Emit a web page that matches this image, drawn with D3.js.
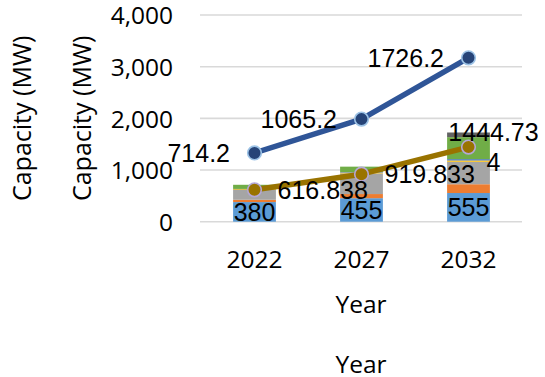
<!DOCTYPE html>
<html>
<head>
<meta charset="utf-8">
<script src="https://cdn.jsdelivr.net/npm/d3@7"></script>
<style>
  html, body { margin: 0; padding: 0; background: #fff; }
  svg { display: block; }
</style>
</head>
<body>
<script>
// Years on the category axis
const years = ["2022", "2027", "2032"];

// Stacked capacity components (MW), bottom to top
const capBlue     = [380, 455, 555];
const capOrange   = [44.2, 80, 170];
const capGray     = [190, 400.2, 435];
const capYellow   = [15, 15, 25];
const capNavy     = [5, 10, 25];
const capGreen    = [80, 105, 426.2];
const capCharcoal = [0, 0, 90];

// Stacked line series (MW): lower line, then upper line stacked on it
const lineLower = [616.838, 919.833, 1444.734];
const lineUpper = [714.2, 1065.2, 1726.2];

// Value axis ticks
const yTicks = [0, 1000, 2000, 3000, 4000];

const segKeys = ["blue", "orange", "gray", "yellow", "navy", "green", "charcoal"];
const segColors = {
  blue: "#5b9bd5", orange: "#ed7d31", gray: "#a5a5a5", yellow: "#ffc000",
  navy: "#4472c4", green: "#70ad47", charcoal: "#636363"
};
const segData = {
  blue: capBlue, orange: capOrange, gray: capGray, yellow: capYellow,
  navy: capNavy, green: capGreen, charcoal: capCharcoal
};

const W = 545, H = 377;
const svg = d3.select("body").append("svg").attr("width", W).attr("height", H);

const x = d3.scaleBand().domain(years).range([201, 522]).paddingInner(0.6).paddingOuter(0.3);
const y = d3.scaleLinear().domain([0, 4000]).range([221.7, 15]);

const tickFont = "'Open Sans', sans-serif";
const labelFont = "'Liberation Sans', Arial, sans-serif";

// Gridlines
svg.append("g").selectAll("line").data(yTicks).join("line")
  .attr("x1", 200).attr("x2", 522)
  .attr("y1", d => y(d)).attr("y2", d => y(d))
  .attr("stroke", "#d9d9d9").attr("stroke-width", 1.6);

// Y tick labels
const yAxis = d3.axisLeft(y).tickValues(yTicks).tickFormat(d3.format(",")).tickSize(0).tickPadding(0);
const gy = svg.append("g").attr("transform", "translate(173,0)").call(yAxis);
gy.select(".domain").remove();
gy.selectAll("text")
  .attr("font-family", tickFont).attr("font-size", 24.5).attr("fill", "#000")
  .attr("dy", "0.36em");

// X tick labels
const xAxis = d3.axisBottom(x).tickSize(0).tickPadding(0);
const gx = svg.append("g").attr("transform", "translate(0,250)").call(xAxis);
gx.select(".domain").remove();
gx.selectAll("text")
  .attr("font-family", tickFont).attr("font-size", 24.5).attr("fill", "#000")
  .attr("dy", "0.75em");

// Stacked bars
const rows = years.map((yr, i) => {
  const r = { year: yr };
  segKeys.forEach(k => { r[k] = segData[k][i]; });
  return r;
});
const stacked = d3.stack().keys(segKeys)(rows);

svg.append("g").selectAll("g").data(stacked).join("g")
  .attr("fill", d => segColors[d.key])
  .selectAll("rect").data(d => d).join("rect")
  .attr("x", d => x(d.data.year))
  .attr("width", x.bandwidth())
  .attr("y", d => y(d[1]))
  .attr("height", d => Math.max(0, y(d[0]) - y(d[1])));

// Stacked lines
const lineRows = years.map((yr, i) => ({ year: yr, lower: lineLower[i], upper: lineUpper[i] }));
const lineStack = d3.stack().keys(["lower", "upper"])(lineRows);
const lineStyles = {
  lower: { stroke: "#997300", marker: "#997300", ring: "#b4a7d6" },
  upper: { stroke: "#2f5597", marker: "#264478", ring: "#9dc3e6" }
};
const cx = d => x(d.data.year) + x.bandwidth() / 2;

const lineGen = d3.line().x(cx).y(d => y(d[1]));

lineStack.forEach(s => {
  const st = lineStyles[s.key];
  svg.append("path").datum(s)
    .attr("d", lineGen)
    .attr("fill", "none").attr("stroke", st.stroke)
    .attr("stroke-width", 5.5).attr("stroke-linejoin", "round").attr("stroke-linecap", "round");
});
lineStack.forEach(s => {
  const st = lineStyles[s.key];
  svg.append("g").selectAll("circle").data(s).join("circle")
    .attr("cx", cx).attr("cy", d => y(d[1])).attr("r", 6.8)
    .attr("fill", st.marker).attr("stroke", st.ring).attr("stroke-width", 1.6);
});

// Data labels
const labels = svg.append("g")
  .attr("font-family", labelFont).attr("font-size", 25).attr("fill", "#000");

// Bottom segment values, centred in the segment
labels.selectAll("text.seg").data(stacked[0]).join("text")
  .attr("class", "seg")
  .attr("x", d => x(d.data.year) + x.bandwidth() / 2)
  .attr("y", d => y((d[0] + d[1]) / 2))
  .attr("dy", "0.36em")
  .attr("text-anchor", "middle")
  .text(d => d[1] - d[0]);

// Upper line values, to the left of the points
labels.selectAll("text.up").data(lineStack[1]).join("text")
  .attr("class", "up")
  .attr("x", d => cx(d) - 24.5)
  .attr("y", d => y(d[1]))
  .attr("dy", "0.36em")
  .attr("text-anchor", "end")
  .text(d => d.data.upper);

// Lower line values, to the right of the points; long values wrap near the edge
lineStack[0].forEach(d => {
  const s = String(d.data.lower);
  const px = cx(d), py = y(d[1]);
  if (px + 23 + s.length * 13.9 > W) {
    const parts = [s.slice(0, 7), s.slice(7)];
    const t = labels.append("text").attr("text-anchor", "middle");
    parts.forEach((p, j) => {
      t.append("tspan")
        .attr("x", px + 25)
        .attr("y", py + (j - (parts.length - 1) / 2) * 30.5)
        .attr("dy", "0.36em")
        .text(p);
    });
  } else {
    labels.append("text")
      .attr("x", px + 23).attr("y", py).attr("dy", "0.36em")
      .attr("text-anchor", "start")
      .text(s);
  }
});

// Axis titles (drawn twice)
[22.5, 83.3].forEach(cxT => {
  svg.append("text")
    .attr("transform", `translate(${cxT},${(y(0) + y(4000)) / 2}) rotate(-90)`)
    .attr("text-anchor", "middle").attr("dy", "0.32em")
    .attr("font-family", tickFont).attr("font-size", 25).attr("fill", "#000")
    .text("Capacity (MW)");
});
[313.3, 373.3].forEach(by => {
  svg.append("text")
    .attr("x", (200 + 522) / 2).attr("y", by)
    .attr("text-anchor", "middle")
    .attr("font-family", tickFont).attr("font-size", 24.5).attr("fill", "#000")
    .text("Year");
});
</script>
</body>
</html>
